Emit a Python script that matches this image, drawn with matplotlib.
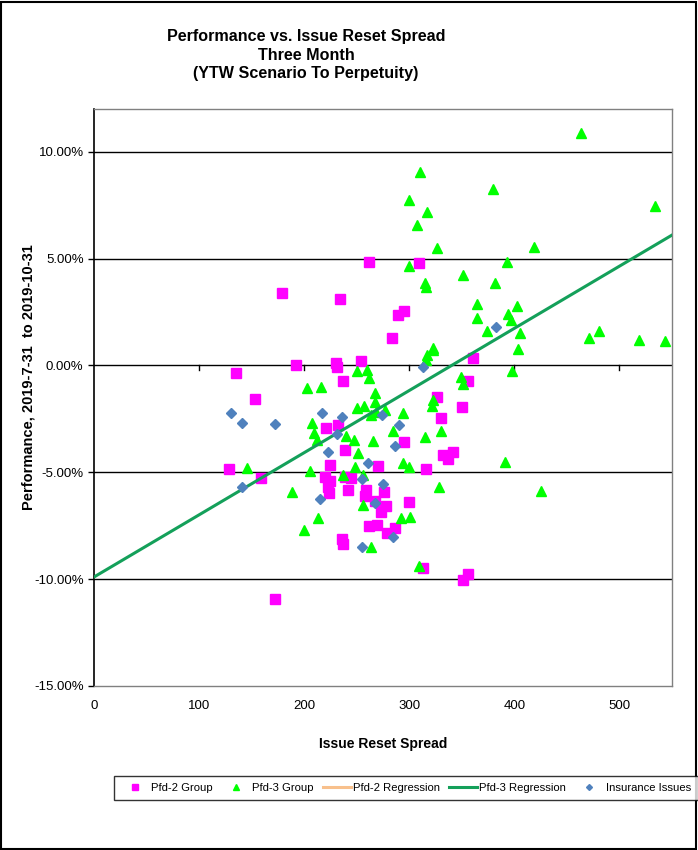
import matplotlib
matplotlib.use("Agg")
import matplotlib.pyplot as plt
from matplotlib.patches import Rectangle
from matplotlib.ticker import FixedLocator, FuncFormatter

plt.rcParams['font.family'] = ['Liberation Sans', 'DejaVu Sans']

# Pfd-2 group (x = issue reset spread, y = performance in %)
pfd2_x = [179, 192, 135, 153.5, 128, 159, 172, 262, 309.5, 234.4, 295.3, 289.6, 283.2,
          360.9, 355.9, 230, 231, 254.3, 237.2, 326.6, 350.4, 330.2, 221, 232.4, 295.3,
          239.1, 332.4, 337.1, 341.6, 224.8, 270.5, 315.9, 220, 224.5, 239.1, 244.5,
          222.3, 223.3, 242, 258.5, 257.8, 276.2, 267.6, 277.8, 300, 273.4, 261.4,
          269.3, 278.5, 286.7, 236, 237.2, 312.7, 351.1, 355.9]
pfd2_y = [3.41, 0.03, -0.34, -1.56, -4.84, -5.26, -10.93, 4.86, 4.81, 3.13, 2.56, 2.37, 1.30,
          0.34, -0.75, 0.11, -0.05, 0.23, -0.75, -1.47, -1.95, -2.47, -2.92, -2.80, -3.56,
          -3.94, -4.18, -4.40, -4.03, -4.65, -4.70, -4.83, -5.23, -5.39, -5.20, -5.26,
          -5.70, -5.95, -5.83, -5.81, -6.12, -5.94, -6.33, -6.56, -6.39, -6.87, -7.50,
          -7.45, -7.84, -7.61, -8.14, -8.36, -9.50, -10.04, -9.76]

# Pfd-3 group
pfd3_x = [203, 207.7, 209.6, 211.9, 205.5, 188.4, 213, 200.1, 145.6,
          310.5, 300, 317.1, 307.6, 326.6, 300, 351.1, 314.6, 315.6, 364.1, 364.1, 322.8,
          463.7, 379.6, 534.1, 418.9, 393.3, 381.8, 402.8, 394.2, 396.5, 374.2, 405.3,
          480.8, 471.3, 518.8, 543.6, 403.7, 398, 349, 351,
          250.5, 260, 262, 216, 267, 267, 268.8, 263.9, 250.5, 257.2, 276.6, 294.3,
          316.5, 315.6, 322.8, 322.8, 321.3, 329.9, 284.8, 314.6, 240, 247.7, 265.7,
          250.9, 248.6, 294, 300, 237.2, 255.6, 256.3, 292.4, 301, 263.6, 309.5,
          425, 391, 328.6]
pfd3_y = [-1.04, -2.70, -3.17, -3.51, -4.95, -5.94, -7.14, -7.72, -4.81,
          9.04, 7.73, 7.18, 6.56, 5.50, 4.65, 4.23, 3.86, 3.66, 2.87, 2.22, 0.83,
          10.86, 8.26, 7.47, 5.54, 4.84, 3.86, 2.78, 2.42, 2.11, 1.59, 1.51,
          1.59, 1.28, 1.20, 1.14, 0.78, -0.27, -0.52, -0.86,
          -0.28, -0.20, -0.59, -1.03, -1.31, -1.72, -2.16, -2.33, -2.00, -1.89, -2.09, -2.23,
          0.47, 0.27, 0.74, -1.64, -1.91, -3.06, -3.09, -3.33, -3.28, -3.51, -3.55,
          -4.09, -4.76, -4.56, -4.76, -5.11, -5.14, -6.54, -7.15, -7.11, -8.48, -9.37,
          -5.86, -4.50, -5.70]

# Insurance issues
ins_x = [130.7, 141.1, 172.2, 141.1, 215, 382.8, 313.3, 217.2, 236, 273.7, 290.2,
         230.9, 286.4, 222.3, 260.7, 255.3, 275.3, 267.4, 284.8, 255.3]
ins_y = [-2.22, -2.70, -2.75, -5.69, -6.27, 1.80, -0.08, -2.22, -2.42, -2.30, -2.81,
         -3.20, -3.76, -4.03, -4.56, -5.31, -5.54, -6.45, -8.05, -8.48]

# Pfd-3 regression line end points
reg3_x = [0, 550]
reg3_y = [-9.9, 6.1]

x_ticks = [0, 100, 200, 300, 400, 500]
y_ticks = [-15, -10, -5, 0, 5, 10]

W, H = 698, 850
fig = plt.figure(figsize=(W / 100, H / 100), dpi=100)
ax = fig.add_axes([94 / W, 1 - 686 / H, (672 - 94) / W, (686 - 109) / H])

ax.plot(pfd2_x, pfd2_y, 's', color='#FF00FF', ms=7, mec='#FF00FF', label='Pfd-2 Group', zorder=3)
ax.plot(pfd3_x, pfd3_y, '^', color='#00FF00', ms=7.5, mec='#00FF00', label='Pfd-3 Group', zorder=4)
ax.plot([], [], '-', color='#F8C08C', lw=2.2, label='Pfd-2 Regression')
ax.plot(reg3_x, reg3_y, '-', color='#14A05A', lw=2.2, label='Pfd-3 Regression', zorder=5)
ax.plot(ins_x, ins_y, 'D', color='#4F81BD', ms=5, mec='#4F81BD', label='Insurance Issues', zorder=6)

ax.set_xlim(0, 550)
ax.set_ylim(-15, 12)
ax.yaxis.set_major_locator(FixedLocator(y_ticks))
ax.yaxis.set_major_formatter(FuncFormatter(lambda v, p: '%.2f%%' % v))
ax.set_xticks(x_ticks)
ax.tick_params(axis='both', labelsize=9.5, length=4, width=1, color='black')
ax.tick_params(axis='x', length=0, pad=10)
for v in y_ticks[1:]:
    ax.axhline(v, color='black', lw=1, zorder=1)
# x axis line crossing at zero with its tick marks
for v in x_ticks[1:]:
    ax.plot([v, v], [0, -0.2], color='black', lw=1, zorder=1, clip_on=False)

for side in ['top', 'right', 'bottom']:
    ax.spines[side].set_color('#808080')
    ax.spines[side].set_linewidth(1)
ax.spines['left'].set_color('black')
ax.spines['left'].set_linewidth(1.2)

ax.set_xlabel('Issue Reset Spread', fontsize=10, fontweight='bold', labelpad=18)
ax.set_ylabel('Performance, 2019-7-31  to 2019-10-31', fontsize=10.5, fontweight='bold')
ax.yaxis.set_label_coords((36 - 94) / 578, (686 - 377) / 577)

fig.text(306 / W, 1 - 55 / H, 'Performance vs. Issue Reset Spread\nThree Month\n(YTW Scenario To Perpetuity)',
         ha='center', va='center', fontsize=11.6, fontweight='bold', linespacing=1.3)

handles, labels = ax.get_legend_handles_labels()
leg = fig.legend(handles, labels, loc='center left', bbox_to_anchor=(114 / W, 1 - 788 / H), ncol=5,
                 fontsize=8.1, frameon=True, fancybox=False, edgecolor='black', handlelength=2.5,
                 columnspacing=0.8, handletextpad=0.2, borderpad=0.6, borderaxespad=0,
                 markerscale=0.6)
leg.get_frame().set_linewidth(1)

fig.add_artist(Rectangle((0.001, 0.001), 0.996, 0.997, transform=fig.transFigure,
                         fill=False, edgecolor='black', lw=1.5))

fig.savefig('out.png', dpi=100)
